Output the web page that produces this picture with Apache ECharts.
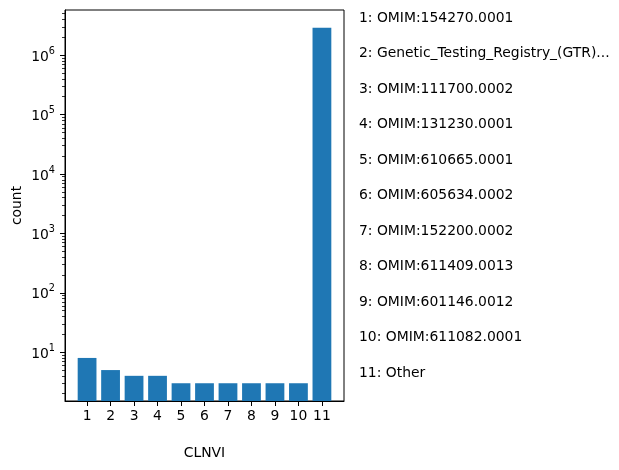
<!DOCTYPE html>
<html>
<head>
<meta charset="utf-8">
<script src="https://cdn.jsdelivr.net/npm/echarts@6/dist/echarts.min.js"></script>
<style>
html,body{margin:0;padding:0;background:#fff;}
#chart{width:619px;height:470px;}
</style>
</head>
<body>
<div id="chart"></div>
<script>
// ---- data ----
const categories = [1, 2, 3, 4, 5, 6, 7, 8, 9, 10, 11];
const counts = [8, 5, 4, 4, 3, 3, 3, 3, 3, 3, 2900000];
const legendLabels = [
  '1: OMIM:154270.0001',
  '2: Genetic_Testing_Registry_(GTR)...',
  '3: OMIM:111700.0002',
  '4: OMIM:131230.0001',
  '5: OMIM:610665.0001',
  '6: OMIM:605634.0002',
  '7: OMIM:152200.0002',
  '8: OMIM:611409.0013',
  '9: OMIM:601146.0012',
  '10: OMIM:611082.0001',
  '11: Other'
];
const yMajorTicks = [10, 100, 1000, 10000, 100000, 1000000];
const yMinorMantissas = [2, 3, 4, 5, 6, 7, 8, 9];
const yMinorDecades = [1, 10, 100, 1000, 10000, 100000, 1000000];
const xTicks = [1, 2, 3, 4, 5, 6, 7, 8, 9, 10, 11];

// ---- layout ----
const W = 619, H = 470;
const G = {left: 65, top: 10, right: 275, bottom: 69};
const xMin = 0.06, xMax = 11.94;
const yMin = 1.507, yMax = 5.77e6;
const plotW = W - G.left - G.right;
const barW = 0.8 * plotW / (xMax - xMin);
const FONT = 'DejaVu Sans';
const FS = 13.9;

const yMinorTicks = [];
yMinorDecades.forEach(d => yMinorMantissas.forEach(m => {
  const v = m * d;
  if (v >= yMin && v <= yMax) yMinorTicks.push(v);
}));

function fmtPow(v) {
  const e = Math.round(Math.log10(v));
  return '{b|10}{s|' + e + '}';
}

const chart = echarts.init(document.getElementById('chart'), null, {renderer: 'canvas'});

const graphics = legendLabels.map((t, i) => ({
  type: 'text',
  left: 359,
  top: 16.7 + i * 35.5 - 5.5,
  style: {text: t, font: FS + 'px "' + FONT + '"', fill: '#000'}
}));

const option = {
  animation: false,
  backgroundColor: '#fff',
  textStyle: {fontFamily: FONT},
  grid: {left: G.left, top: G.top, right: G.right, bottom: G.bottom,
         show: true, borderColor: '#000', borderWidth: 1, backgroundColor: 'transparent'},
  xAxis: {
    type: 'value', min: xMin, max: xMax,
    name: 'CLNVI', nameLocation: 'middle', nameGap: 45,
    nameTextStyle: {fontFamily: FONT, fontSize: FS, color: '#000'},
    axisLine: {show: true, onZero: false, lineStyle: {color: '#000', width: 1}},
    axisTick: {show: true, customValues: xTicks, length: 5, lineStyle: {color: '#000'}},
    axisLabel: {customValues: xTicks, margin: 8.5, fontFamily: FONT, fontSize: FS, color: '#000'},
    splitLine: {show: false}
  },
  yAxis: [{
    type: 'log', logBase: 10, min: yMin, max: yMax,
    name: 'count', nameLocation: 'middle', nameGap: 41, nameRotate: 90,
    nameTextStyle: {fontFamily: FONT, fontSize: FS, color: '#000'},
    axisLine: {show: true, lineStyle: {color: '#000', width: 1}},
    axisTick: {show: true, customValues: yMajorTicks, length: 5, lineStyle: {color: '#000'}},
    axisLabel: {
      customValues: yMajorTicks, margin: 10, color: '#000',
      formatter: fmtPow,
      rich: {
        b: {fontFamily: FONT, fontSize: FS, color: '#000', lineHeight: 16, padding: [4, 0, 0, 0]},
        s: {fontFamily: FONT, fontSize: 9.7, color: '#000', lineHeight: 18, verticalAlign: 'top'}
      }
    },
    splitLine: {show: false}
  }, {
    type: 'log', logBase: 10, min: yMin, max: yMax, position: 'left',
    axisLine: {show: false},
    axisTick: {show: true, customValues: yMinorTicks, length: 3, lineStyle: {color: '#000', width: 0.8}},
    axisLabel: {show: false},
    splitLine: {show: false}
  }],
  series: [{
    type: 'bar',
    xAxisIndex: 0, yAxisIndex: 0,
    data: categories.map((c, i) => [c, counts[i]]),
    barWidth: barW,
    clip: true,
    itemStyle: {color: '#1f77b4'}
  }],
  graphic: graphics
};
chart.setOption(option);
</script>
</body>
</html>
